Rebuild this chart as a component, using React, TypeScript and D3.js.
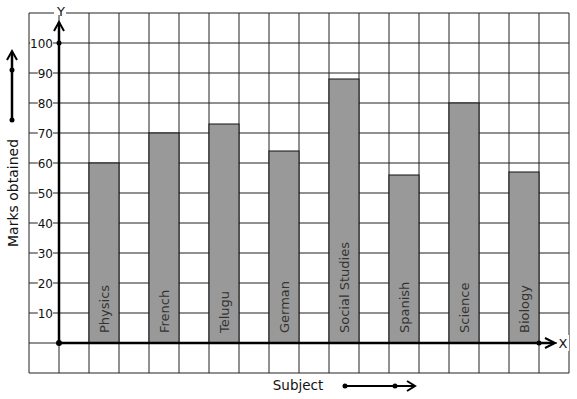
import * as d3 from 'd3'

// ── data ────────────────────────────────────────────────────────────────────
const subjects = ['Physics', 'French', 'Telugu', 'German', 'Social Studies', 'Spanish', 'Science', 'Biology']
const marks    = [60, 70, 73, 64, 88, 56, 80, 57]
const yTicks   = [10, 20, 30, 40, 50, 60, 70, 80, 90, 100]

const W = 577, H = 399
const FONT = 'DejaVu Sans, sans-serif'
const INK  = '#222'

export default function App() {
  // one grid square = 30px; column units on x, marks on y
  const x = d3.scaleLinear().domain([-1, 17]).range([29, 569])
  const y = d3.scaleLinear().domain([-10, 110]).range([373, 13])

  const cols = d3.range(-1, 18)
  const rows = d3.range(-10, 111, 10)

  const x0 = x(0), y0 = y(0)

  return (
    <svg width={W} height={H} style={{ position: 'absolute', left: 0, top: 0, background: '#fff' }}
      fontFamily={FONT}>
      {/* grid */}
      {cols.map(c => (
        <line key={'c' + c} x1={x(c)} x2={x(c)} y1={y(110)} y2={y(-10)} stroke={INK} strokeWidth={1} />
      ))}
      {rows.map(r => (
        <line key={'r' + r} x1={x(-1)} x2={x(17)} y1={y(r)} y2={y(r)} stroke={INK} strokeWidth={1} />
      ))}

      {/* bars */}
      {subjects.map((s, i) => {
        const c = 1 + i * 2
        return (
          <g key={s}>
            <rect x={x(c)} y={y(marks[i])} width={x(c + 1) - x(c)} height={y0 - y(marks[i])}
              fill="#999" stroke="#111" strokeWidth={1} />
            <text transform={`translate(${(x(c) + x(c + 1)) / 2 + 5},${y0 - 10}) rotate(-90)`}
              fontSize={13} fill="#333">{s}</text>
          </g>
        )
      })}

      {/* y tick labels, white box behind so the grid shows as a small dash */}
      {yTicks.map(t => {
        const w = String(t).length * 7.6
        return (
          <g key={t}>
            <rect x={x0 - 6 - w} y={y(t) - 7} width={w} height={14} fill="#fff" />
            <text x={x0 - 6} y={y(t) + 4.5} textAnchor="end" fontSize={12} fill="#111">{t}</text>
          </g>
        )
      })}

      {/* axes */}
      <line x1={x0} x2={x0} y1={y0} y2={y(107)} stroke="#000" strokeWidth={2.5} />
      <path d={`M${x0 - 5},${y(104)}L${x0},${y(107)}L${x0 + 5},${y(104)}`} fill="none" stroke="#000" strokeWidth={2} />
      <circle cx={x0} cy={y(100)} r={2.5} fill="#000" />
      <line x1={x0} x2={x(16.5)} y1={y0} y2={y0} stroke="#000" strokeWidth={2.5} />
      <path d={`M${x(16.2)},${y0 - 5}L${x(16.5) + 1},${y0}L${x(16.2)},${y0 + 5}`} fill="none" stroke="#000" strokeWidth={2} />
      <circle cx={x(16)} cy={y0} r={2.5} fill="#000" />
      <circle cx={x0} cy={y0} r={3} fill="#000" />

      {/* axis letters */}
      <rect x={x0 - 5} y={y(110) - 2} width={12} height={4} fill="#fff" />
      <text x={x0 + 2} y={y(110) + 3} textAnchor="middle" fontSize={13} fill="#111">Y</text>
      <rect x={x(16.6)} y={y0 - 8} width={12} height={16} fill="#fff" />
      <text x={x(16.6) + 6} y={y0 + 5} textAnchor="middle" fontSize={13} fill="#111">X</text>

      {/* left caption with arrow */}
      <text transform={`translate(17.5,${193}) rotate(-90)`} textAnchor="middle" fontSize={14} fill="#111">Marks obtained</text>
      <line x1={12} x2={12} y1={120} y2={52} stroke="#000" strokeWidth={2.5} />
      <path d="M7,60L12,51L17,60" fill="none" stroke="#000" strokeWidth={2} />
      <circle cx={12} cy={120} r={2.5} fill="#000" />
      <circle cx={12} cy={70} r={2.5} fill="#000" />

      {/* bottom caption with arrow */}
      <text x={298} y={390} textAnchor="middle" fontSize={13.5} fill="#111">Subject</text>
      <line x1={345} x2={414} y1={386} y2={386} stroke="#000" strokeWidth={2} />
      <path d="M407,381L415,386L407,391" fill="none" stroke="#000" strokeWidth={2} />
      <circle cx={345} cy={386} r={2.5} fill="#000" />
      <circle cx={395} cy={386} r={2.5} fill="#000" />
    </svg>
  )
}
